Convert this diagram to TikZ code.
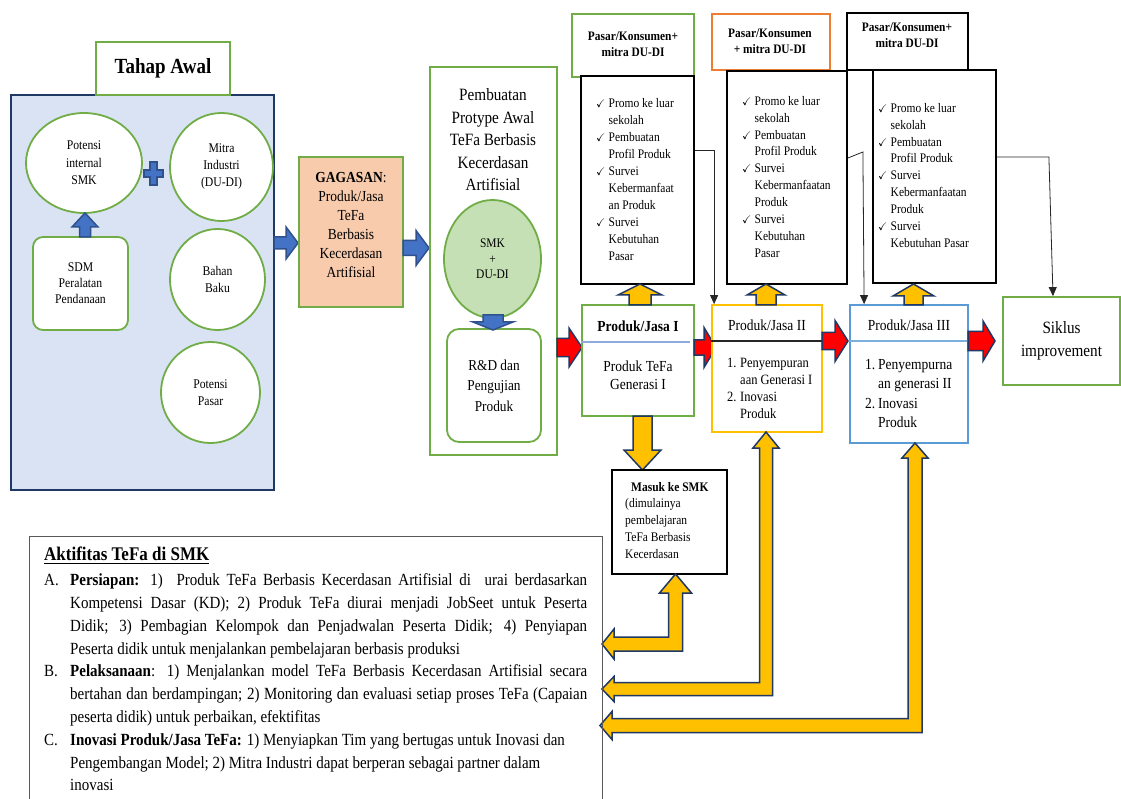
\documentclass[tikz,border=0pt]{standalone}
\usepackage{fontspec}
\setmainfont[FakeStretch=0.88]{Liberation Serif}
\usepackage{amssymb}
\usetikzlibrary{shapes.geometric,arrows.meta}
\definecolor{cgreen}{HTML}{70AD47}
\definecolor{corange}{HTML}{ED7D31}
\definecolor{cgold}{HTML}{FFC000}
\definecolor{cblue}{HTML}{5B9BD5}
\definecolor{cnavy}{HTML}{1F3864}
\definecolor{cpanel}{HTML}{DAE3F3}
\definecolor{cpeach}{HTML}{F8CBAD}
\definecolor{clgreen}{HTML}{C5E0B4}
\definecolor{cbarrow}{HTML}{4472C4}
\definecolor{cbarrowd}{HTML}{2F528F}
\definecolor{cdiv}{HTML}{8FAADC}
\definecolor{cgray}{HTML}{595959}
\newcommand\setfs[2]{\fontsize{\fpeval{#1*1.136}}{#2}\selectfont}
\newcommand\ckm{\makebox[12.5pt][l]{\scalebox{0.85}{\ensuremath{\checkmark}}}}
\newcommand\lind{\hspace*{12.5pt}}
\newcommand\numb[1]{\makebox[13pt][l]{#1}}
% right block arrow: style, xtail, xtip, yc, shaft half, head half, head length
\newcommand\BArR[7]{\filldraw[#1] (#2,#4-#5) -- (#3-#7,#4-#5) -- (#3-#7,#4-#6) -- (#3,#4) -- (#3-#7,#4+#6) -- (#3-#7,#4+#5) -- (#2,#4+#5) -- cycle;}
% up block arrow: style, xc, ytail, ytip, shaft half, head half, head length
\newcommand\BArU[7]{\filldraw[#1] (#2-#5,#3) -- (#2-#5,#4+#7) -- (#2-#6,#4+#7) -- (#2,#4) -- (#2+#6,#4+#7) -- (#2+#5,#4+#7) -- (#2+#5,#3) -- cycle;}
\newcommand\BArD[7]{\filldraw[#1] (#2-#5,#3) -- (#2-#5,#4-#7) -- (#2-#6,#4-#7) -- (#2,#4) -- (#2+#6,#4-#7) -- (#2+#5,#4-#7) -- (#2+#5,#3) -- cycle;}
% L-shaped double arrow: xc, ytip(up), yc(horizontal), xtip(left), shaft half, vhead half, vhead len, hhead half, hhead len
\newcommand\BArL[9]{\filldraw[yarrow] (#1,#2) -- (#1+#6,#2+#7) -- (#1+#5,#2+#7) -- (#1+#5,#3+#5) -- (#4+#9,#3+#5) -- (#4+#9,#3+#8) -- (#4,#3) -- (#4+#9,#3-#8) -- (#4+#9,#3-#5) -- (#1-#5,#3-#5) -- (#1-#5,#2+#7) -- (#1-#6,#2+#7) -- cycle;}
\begin{document}
\begin{tikzpicture}[x=1pt,y=-1pt,
  gbox/.style={draw=cgreen, line width=1.8pt, fill=white, inner sep=0pt, align=center},
  kbox/.style={draw=black, line width=1.8pt, fill=white, inner sep=0pt, align=center},
  gell/.style={ellipse, draw=cgreen, line width=1.8pt, fill=white, inner sep=0pt, align=center},
  txt/.style={inner sep=0pt, align=center},
  ltxt/.style={inner sep=0pt, align=left, anchor=north west},
  yarrow/.style={fill=cgold, draw=cnavy, line width=1.5pt},
  barrow/.style={fill=cbarrow, draw=cbarrowd, line width=1.5pt},
  rarrow/.style={fill=red, draw=cnavy, line width=1.5pt},
  tarrow/.style={draw=black!85, line width=0.8pt, -{Triangle[length=9pt,width=8pt]}},
]
\useasboundingbox[fill=white] (0,0) rectangle (1121,799);

% ---------- Tahap Awal panel ----------
\node[draw=cnavy, line width=1.8pt, fill=cpanel, minimum width=263pt, minimum height=395pt, inner sep=0pt] (panel) at (142.5,292.5) {};
\node[gbox, minimum width=134pt, minimum height=53pt, font=\setfs{19}{22}\bfseries] (tahap) at (163,68.5) {Tahap Awal};
\node[gell, minimum width=116pt, minimum height=100pt, font=\setfs{11.7}{17.5}] (pint) at (84,163) {Potensi\\internal\\SMK};
\node[gell, minimum width=103pt, minimum height=108pt, font=\setfs{11.7}{17}] (mitra) at (221.5,167) {Mitra\\Industri\\(DU-DI)};
\node[gell, minimum width=95pt, minimum height=101pt, font=\setfs{11.7}{17}] (bahan) at (217.5,279.5) {Bahan\\Baku};
\node[gell, minimum width=99pt, minimum height=101pt, font=\setfs{11.7}{17}] (ppasar) at (210.5,392.5) {Potensi\\Pasar};
\node[gbox, rounded corners=10pt, minimum width=95pt, minimum height=93pt, font=\setfs{11.7}{16}] (sdm) at (80.5,283.5) {SDM\\Peralatan\\Pendanaan};
\filldraw[barrow, line width=1.2pt] (150,162) -- (157,162) -- (157,170) -- (163,170) -- (163,177) -- (157,177) -- (157,185) -- (150,185) -- (150,177) -- (144,177) -- (144,170) -- (150,170) -- cycle;
\BArU{barrow}{85}{237}{213}{5.5}{13}{14}

% ---------- Gagasan & prototype ----------
\BArR{barrow}{274}{298}{243}{6}{16}{12}
\node[draw=cgreen, line width=1.8pt, fill=cpeach, minimum width=104pt, minimum height=150pt, inner sep=0pt] (gag) at (351,232) {};
\node[txt, font=\setfs{13.5}{19}] (gagt) at (351,225) {\textbf{GAGASAN}:\\Produk/Jasa\\TeFa\\Berbasis\\Kecerdasan\\Artifisial};
\BArR{barrow}{403}{429}{248}{7.5}{17.5}{13}
\node[gbox, minimum width=127pt, minimum height=388pt] (proto) at (493.5,261) {};
\node[txt, font=\setfs{15.2}{22.5}] (protot) at (493,140) {Pembuatan\\Protype Awal\\TeFa Berbasis\\Kecerdasan\\Artifisial};
\node[gell, fill=clgreen, minimum width=97pt, minimum height=118pt, font=\setfs{11.5}{15.5}] (smk) at (492.5,259) {SMK\\+\\DU-DI};
\node[gbox, rounded corners=12pt, minimum width=94pt, minimum height=113pt, font=\setfs{13.3}{20.5}] (rnd) at (494,385.5) {R\&D dan\\Pengujian\\Produk};
\BArD{barrow}{493}{315}{330}{10}{20}{8}

% ---------- Top market boxes ----------
\node[gbox, minimum width=122pt, minimum height=63pt] (h1) at (633,45.5) {};
\node[txt, font=\setfs{11.4}{16}\bfseries] (h1t) at (633,44) {Pasar/Konsumen+\\mitra DU-DI};
\node[kbox, minimum width=113pt, minimum height=208pt] (l1) at (637.5,180) {};
\node[ltxt, font=\setfs{11.5}{17}] (l1t) at (596,98) {\ckm Promo ke luar\\ \lind sekolah\\ \ckm Pembuatan\\ \lind Profil Produk\\ \ckm Survei\\ \lind Kebermanfaat\\ \lind an Produk\\ \ckm Survei\\ \lind Kebutuhan\\ \lind Pasar};

\node[draw=corange, line width=1.8pt, fill=white, minimum width=118pt, minimum height=56pt, inner sep=0pt] (h2) at (771,42) {};
\node[txt, font=\setfs{11.4}{16}\bfseries] (h2t) at (770,41.5) {Pasar/Konsumen\\+ mitra DU-DI};
\node[kbox, minimum width=120pt, minimum height=213pt] (l2) at (787,177.5) {};
\node[ltxt, font=\setfs{11.5}{16.9}] (l2t) at (742,96) {\ckm Promo ke luar\\ \lind sekolah\\ \ckm Pembuatan\\ \lind Profil Produk\\ \ckm Survei\\ \lind Kebermanfaatan\\ \lind Produk\\ \ckm Survei\\ \lind Kebutuhan\\ \lind Pasar};

\node[kbox, minimum width=121pt, minimum height=57pt] (h3) at (907.5,41.5) {};
\node[txt, font=\setfs{11.4}{15.5}\bfseries] (h3t) at (907,35.5) {Pasar/Konsumen+\\mitra DU-DI};
\node[kbox, minimum width=123pt, minimum height=213pt] (l3) at (934.5,176.5) {};
\node[ltxt, font=\setfs{11.5}{16.9}] (l3t) at (878,103) {\ckm Promo ke luar\\ \lind sekolah\\ \ckm Pembuatan\\ \lind Profil Produk\\ \ckm Survei\\ \lind Kebermanfaatan\\ \lind Produk\\ \ckm Survei\\ \lind Kebutuhan Pasar};

% ---------- Product row ----------
\BArR{rarrow}{557}{582}{347.5}{9}{19.5}{13}
\node[gbox, minimum width=112pt, minimum height=111pt] (p1) at (638,360.5) {};
\draw[cdiv, line width=1.2pt] ([yshift=-38pt]p1.north west) -- ([yshift=-38pt,xshift=-5pt]p1.north east);
\node[txt, font=\setfs{13.5}{18}\bfseries] (p1t) at (638,326) {Produk/Jasa I};
\node[txt, font=\setfs{13.5}{18}] (p1b) at (638,375) {Produk TeFa\\Generasi I};

\BArR{rarrow}{694}{716}{347.5}{7.5}{20}{12}
\node[draw=cgold, line width=1.8pt, fill=white, minimum width=110pt, minimum height=127pt, inner sep=0pt] (p2) at (767,368.5) {};
\draw[black!85, line width=1.2pt] ([yshift=-37pt]p2.north west) -- ([yshift=-37pt]p2.north east);
\node[txt, font=\setfs{13.5}{18}] (p2t) at (767,325) {Produk/Jasa II};
\node[ltxt, font=\setfs{12.5}{17}] (p2l) at (727,358) {\numb{1.}Penyempuran\\ \hspace*{13pt}aan Generasi I\\ \numb{2.}Inovasi\\ \hspace*{13pt}Produk};

\BArR{rarrow}{822}{848}{341}{8.5}{20.5}{13}
\node[draw=cblue, line width=1.8pt, fill=white, minimum width=118pt, minimum height=138pt, inner sep=0pt] (p3) at (909,374) {};
\draw[cblue!80, line width=1.2pt] ([yshift=-37pt]p3.north west) -- ([yshift=-37pt]p3.north east);
\node[txt, font=\setfs{13.5}{18}] (p3t) at (909,325) {Produk/Jasa III};
\node[ltxt, font=\setfs{13.5}{19.5}] (p3l) at (865,359) {\numb{1.}Penyempurna\\ \hspace*{13pt}an generasi II\\ \numb{2.}Inovasi\\ \hspace*{13pt}Produk};

\BArR{rarrow}{968}{995}{341}{9.5}{20}{12}
\node[gbox, minimum width=117pt, minimum height=88pt, font=\setfs{15.2}{23}] (sik) at (1061.5,341) {Siklus\\improvement};

% yellow arrows up to market boxes
\BArU{yarrow}{640}{305}{284}{11}{22}{11}
\BArU{yarrow}{766}{305}{284}{10}{19}{11}
\BArU{yarrow}{913.5}{305}{284}{9.5}{20.5}{12}

% thin connectors
\draw[tarrow] ([yshift=30pt]l1.east) -| ([xshift=3pt]p2.north west);
\draw[tarrow] ([yshift=19.5pt]l2.east) -- ++(15,-6) -- ([xshift=15pt]p3.north west);
\draw[tarrow] ([yshift=19.5pt]l3.east) -- ++(52,0) -- ([xshift=-8.5pt]sik.north);

% ---------- Masuk ke SMK ----------
\BArD{yarrow}{642.5}{416}{470}{9.5}{18.5}{20}
\node[kbox, line width=1.2pt, minimum width=115pt, minimum height=104pt] (masuk) at (669.5,522) {};
\node[ltxt, font=\setfs{11.5}{16.7}] (masukt) at (625,482) {\hspace*{6pt}\textbf{Masuk ke SMK}\\(dimulainya\\pembelajaran\\TeFa Berbasis\\Kecerdasan};

% L-shaped yellow arrows
\BArL{675.5}{574}{644}{602}{7}{16}{19}{15}{12}
\BArL{766}{432}{689}{602}{6.5}{13}{16}{12.5}{12}
\BArL{915}{443}{725.5}{600}{7}{13}{15}{14}{12}

% ---------- Aktifitas box ----------
\node[draw=cgray, line width=1pt, minimum width=573pt, minimum height=280pt, inner sep=0pt] (akt) at (315.5,676) {};
\node[inner sep=0pt, anchor=north west, text width=543pt, align=justify, font=\setfs{15}{22.8}] (aktt) at (44,547) {%
{\setfs{17}{22.8}\underline{\textbf{Aktifitas TeFa di SMK}}}\par\vspace{2pt}
\hangindent=26pt\hangafter=1\noindent\makebox[26pt][l]{A.}\textbf{Persiapan:} 1)\ \ Produk TeFa Berbasis Kecerdasan Artifisial di\ \ urai berdasarkan\linebreak Kompetensi Dasar (KD); 2) Produk TeFa diurai menjadi JobSeet untuk Peserta\linebreak Didik; 3) Pembagian Kelompok dan Penjadwalan Peserta Didik; 4) Penyiapan\linebreak Peserta didik untuk menjalankan pembelajaran berbasis produksi\par
\hangindent=26pt\hangafter=1\noindent\makebox[26pt][l]{B.}\textbf{Pelaksanaan}: 1) Menjalankan model TeFa Berbasis Kecerdasan Artifisial secara\linebreak bertahan dan berdampingan; 2) Monitoring dan evaluasi setiap proses TeFa (Capaian\linebreak peserta didik) untuk perbaikan, efektifitas\par
\hangindent=26pt\hangafter=1\noindent\makebox[26pt][l]{C.}\textbf{Inovasi Produk/Jasa TeFa:} 1) Menyiapkan Tim yang bertugas untuk Inovasi dan\newline Pengembangan Model; 2) Mitra Industri dapat berperan sebagai partner dalam\newline inovasi\par};
\end{tikzpicture}
\end{document}
